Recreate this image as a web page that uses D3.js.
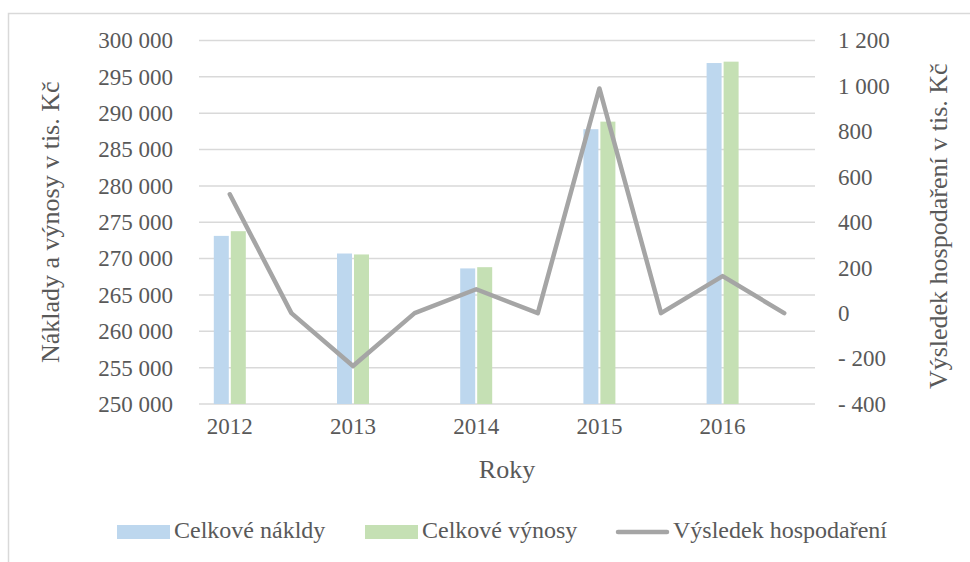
<!DOCTYPE html>
<meta charset="utf-8">
<script src="https://d3js.org/d3.v7.min.js"></script>
<style>
  body { margin: 0; background: #fff; }
  text { font-family: "Liberation Serif", "Times New Roman", serif; fill: #595959; }
</style>
<div id="chart"></div>
<script>

// data (blank categories sit between the years)
var years = ["2012", "", "2013", "", "2014", "", "2015", "", "2016", ""];
var naklady = [273125, null, 270700, null, 268650, null, 287800, null, 296900, null];
var vynosy = [273770, null, 270570, null, 268820, null, 288840, null, 297090, null];
var vysledek = [523, 0, -233, 0, 105, 0, 989, 0, 163, 0];
var leftTicks = [250000, 255000, 260000, 265000, 270000, 275000, 280000, 285000, 290000, 295000, 300000];
var rightTicks = [-400, -200, 0, 200, 400, 600, 800, 1000, 1200];

var W = 970, H = 562;
var plot = {left: 199, right: 815, top: 40.5, bottom: 404};

var svg = d3.select("#chart")
  .append("svg")
    .attr("width", W)
    .attr("height", H);

// outer chart border (only top and left are visible in the picture)
svg.append("rect")
  .attr("x", 8.5).attr("y", 13.5)
  .attr("width", W + 20).attr("height", H + 20)
  .attr("fill", "none")
  .attr("stroke", "#d9d9d9")
  .attr("stroke-width", 1.5);

var x = d3.scaleBand()
  .domain(d3.range(years.length))
  .range([plot.left, plot.right]);

var yL = d3.scaleLinear()
  .domain([250000, 300000])
  .range([plot.bottom, plot.top]);

var yR = d3.scaleLinear()
  .domain([-400, 1200])
  .range([plot.bottom, plot.top]);

function fmt(v) {
  var s = d3.format(",")(Math.abs(v)).replace(/,/g, " ");
  return v < 0 ? "- " + s : s;
}

// gridlines
svg.append("g")
  .selectAll("line")
  .data(leftTicks)
  .enter()
  .append("line")
    .attr("x1", plot.left).attr("x2", plot.right)
    .attr("y1", function(d) { return yL(d); })
    .attr("y2", function(d) { return yL(d); })
    .attr("stroke", "#d9d9d9")
    .attr("stroke-width", 1.5);

// left axis
var axL = svg.append("g")
  .attr("transform", "translate(" + (plot.left - 26) + ",0)")
  .call(d3.axisLeft(yL).tickValues(leftTicks).tickSize(0).tickPadding(0).tickFormat(fmt));
axL.select(".domain").remove();
axL.selectAll("text").style("font-size", "23px").attr("fill", "#595959");

// right axis
var axR = svg.append("g")
  .attr("transform", "translate(" + (plot.right + 23) + ",0)")
  .call(d3.axisRight(yR).tickValues(rightTicks).tickSize(0).tickPadding(0).tickFormat(fmt));
axR.select(".domain").remove();
axR.selectAll("text").style("font-size", "23px").attr("fill", "#595959");

// bottom axis labels
var axB = svg.append("g")
  .attr("transform", "translate(0," + plot.bottom + ")")
  .call(d3.axisBottom(x).tickSize(0).tickPadding(14).tickFormat(function(i) { return years[i]; }));
axB.select(".domain").remove();
axB.selectAll("text").style("font-size", "23px").attr("fill", "#595959");

// bars
var bw = 15, gap = 1;
svg.append("g")
  .selectAll("rect")
  .data(naklady.map(function(v, i) { return {i: i, v: v}; }).filter(function(d) { return d.v != null; }))
  .enter()
  .append("rect")
    .attr("x", function(d) { return x(d.i) + x.bandwidth() / 2 - gap - bw; })
    .attr("y", function(d) { return yL(d.v); })
    .attr("width", bw)
    .attr("height", function(d) { return plot.bottom - yL(d.v); })
    .attr("fill", "#bdd7ee");

svg.append("g")
  .selectAll("rect")
  .data(vynosy.map(function(v, i) { return {i: i, v: v}; }).filter(function(d) { return d.v != null; }))
  .enter()
  .append("rect")
    .attr("x", function(d) { return x(d.i) + x.bandwidth() / 2 + gap; })
    .attr("y", function(d) { return yL(d.v); })
    .attr("width", bw)
    .attr("height", function(d) { return plot.bottom - yL(d.v); })
    .attr("fill", "#c5e0b4");

// line on the secondary axis
var line = d3.line()
  .x(function(d, i) { return x(i) + x.bandwidth() / 2; })
  .y(function(d) { return yR(d); });

svg.append("path")
  .datum(vysledek)
  .attr("d", line)
  .attr("fill", "none")
  .attr("stroke", "#a5a5a5")
  .attr("stroke-width", 4.5)
  .attr("stroke-linejoin", "round")
  .attr("stroke-linecap", "round");

// axis titles
svg.append("text")
  .attr("transform", "translate(50," + ((plot.top + plot.bottom) / 2) + ") rotate(-90)")
  .attr("dy", "0.35em")
  .style("text-anchor", "middle")
  .style("font-size", "26px")
  .text("Náklady a výnosy v tis. Kč");

svg.append("text")
  .attr("transform", "translate(938," + ((plot.top + plot.bottom) / 2 + 4) + ") rotate(-90)")
  .attr("dy", "0.35em")
  .style("text-anchor", "middle")
  .style("font-size", "26px")
  .text("Výsledek hospodaření v tis. Kč");

svg.append("text")
  .attr("x", (plot.left + plot.right) / 2)
  .attr("y", 478)
  .style("text-anchor", "middle")
  .style("font-size", "26px")
  .text("Roky");

// legend
var legend = [
  {name: "Celkové nákldy", color: "#bdd7ee", type: "bar", x: 117},
  {name: "Celkové výnosy", color: "#c5e0b4", type: "bar", x: 365},
  {name: "Výsledek hospodaření", color: "#a5a5a5", type: "line", x: 616}
];
var lg = svg.append("g")
  .selectAll("g")
  .data(legend)
  .enter()
  .append("g")
    .attr("transform", function(d) { return "translate(" + d.x + ",532)"; });

lg.filter(function(d) { return d.type == "bar"; })
  .append("rect")
    .attr("x", 0).attr("y", -7)
    .attr("width", 53).attr("height", 14)
    .attr("fill", function(d) { return d.color; });

lg.filter(function(d) { return d.type == "line"; })
  .append("line")
    .attr("x1", 2).attr("x2", 51)
    .attr("y1", 0).attr("y2", 0)
    .attr("stroke", function(d) { return d.color; })
    .attr("stroke-width", 4.5)
    .attr("stroke-linecap", "round");

lg.append("text")
  .attr("x", 57)
  .attr("y", 6)
  .style("font-size", "24px")
  .text(function(d) { return d.name; });

</script>
